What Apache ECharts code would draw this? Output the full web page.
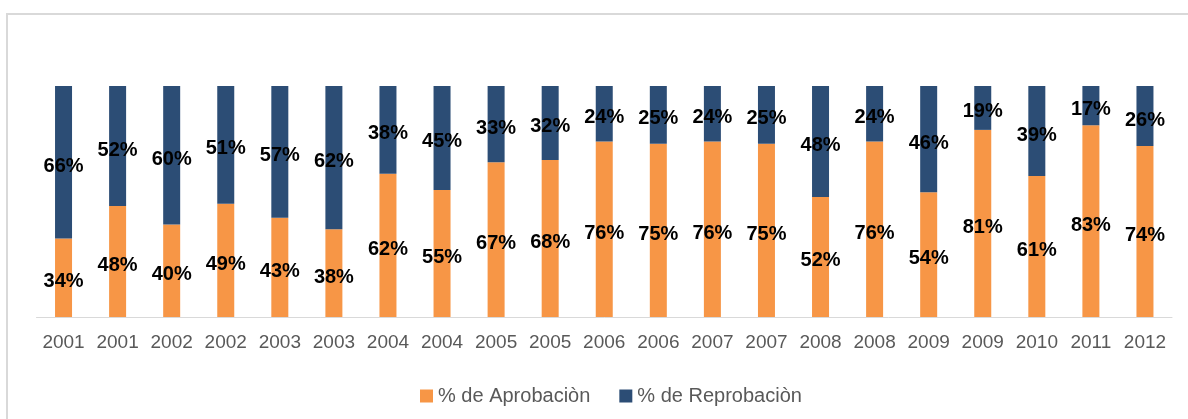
<!DOCTYPE html>
<html lang="es">

<head>
  <meta charset="UTF-8">
  <title>Aprobación / Reprobación</title>
  <style>
    html, body { margin: 0; padding: 0; background: #fff; }
  </style>
</head>

<body>
  <div id="main" style="width: 1188px;height:419px;"></div>
  <script src="https://cdn.jsdelivr.net/npm/echarts@6/dist/echarts.min.js"></script>
  <script>
    // años (se repiten en el original)
    const years = ['2001', '2001', '2002', '2002', '2003', '2003', '2004', '2004', '2005', '2005', '2006',
      '2006', '2007', '2007', '2008', '2008', '2009', '2009', '2010', '2011', '2012'];
    const aprobacion = [34, 48, 40, 49, 43, 38, 62, 55, 67, 68, 76, 75, 76, 75, 52, 76, 54, 81, 61, 83, 74];
    const reprobacion = [66, 52, 60, 51, 57, 62, 38, 45, 33, 32, 24, 25, 24, 25, 48, 24, 46, 19, 39, 17, 26];

    const fontFamily = '"Liberation Sans", Arial, sans-serif';

    const myChart = echarts.init(document.getElementById('main'));

    const labelStyle = {
      show: true,
      position: 'inside',
      offset: [0, 4],
      formatter: '{c}%',
      color: '#000',
      fontWeight: 'bold',
      fontSize: 20,
      fontFamily: fontFamily
    };

    const option = {
      animation: false,
      textStyle: { fontFamily: fontFamily },
      graphic: [{
        type: 'rect',
        shape: { x: 7, y: 14, width: 1200, height: 420 },
        style: { fill: 'none', stroke: '#d9d9d9', lineWidth: 2 },
        silent: true
      }],
      grid: {
        left: 36.5,
        right: 16,
        top: 86,
        bottom: 102
      },
      legend: {
        left: 415,
        top: 381,
        itemWidth: 13,
        itemHeight: 13,
        itemGap: 29,
        icon: 'rect',
        textStyle: { fontSize: 20, color: '#595959', fontFamily: fontFamily },
        data: ['% de Aprobaciòn', '% de Reprobaciòn']
      },
      xAxis: {
        type: 'category',
        data: years,
        axisLine: { lineStyle: { color: '#d9d9d9', width: 1 } },
        axisTick: { show: false },
        axisLabel: { color: '#595959', fontSize: 19, margin: 16, interval: 0 }
      },
      yAxis: {
        type: 'value',
        min: 0,
        max: 100,
        show: false,
        splitLine: { show: false }
      },
      series: [{
        name: '% de Aprobaciòn',
        type: 'bar',
        stack: 'total',
        barWidth: 17,
        itemStyle: { color: '#f79646' },
        label: labelStyle,
        data: aprobacion
      }, {
        name: '% de Reprobaciòn',
        type: 'bar',
        stack: 'total',
        barWidth: 17,
        itemStyle: { color: '#2c4d75' },
        label: labelStyle,
        data: reprobacion
      }]
    };

    myChart.setOption(option);
  </script>
</body>

</html>
